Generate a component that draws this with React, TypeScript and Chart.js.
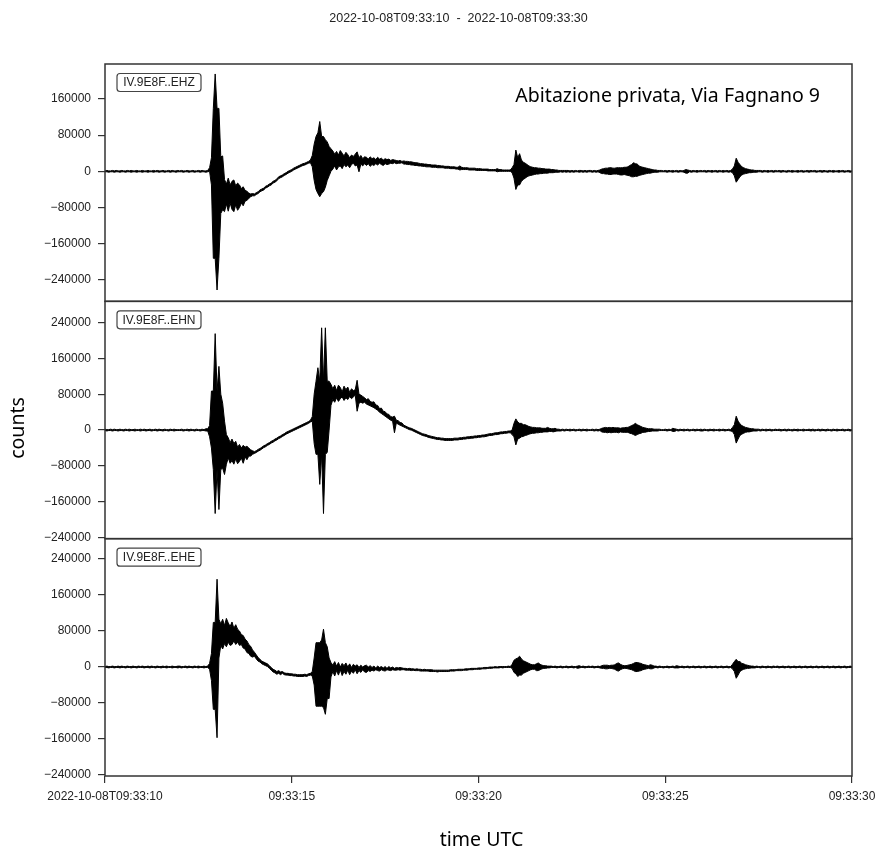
import { useEffect, useRef } from 'react';
import { Chart, registerables } from 'chart.js';

Chart.register(...registerables);

// Width of one plotting bin, seconds after 2022-10-08T09:33:10
const SAMPLE_STEP = 0.05;

// Per-bin maximum / minimum of each trace, thousands of counts; one row = one second
const EHZ_HI = [
  1, 2, 1, 1, 2, 1, 2, 1, 1, 2, 1, 1, 2, 1, 2, 1, 1, 2, 1, 1,
  2, 1, 1, 2, 1, 1, 2, 1, 2, 1, 1, 2, 1, 1, 2, 1, 2, 1, 1, 2,
  1, 2, 1, 1, 2, 1, 1, 2, 1, 1, 2, 1, 2, 1, 1, 2, 8, 30, 139, 215,
  139, 139, 32, 34, -18, -28, -15, -30, -22, -19, -32, -26, -30, -38, -34, -42, -44, -48, -50, -49,
  -50, -47, -45, -41, -39, -37, -33, -31, -28, -26, -22, -20, -17, -12, -10, -8, -5, -3, 0, 2,
  4, 7, 9, 11, 13, 15, 17, 18, 20, 22, 25, 35, 60, 77, 85, 110, 77, 77, 70, 65,
  55, 50, 45, 38, 44, 36, 46, 40, 34, 42, 37, 30, 36, 33, 38, 43, 30, 35, 28, 32,
  31, 27, 32, 28, 30, 26, 31, 27, 29, 25, 28, 26, 27, 24, 26, 25, 24, 23, 24, 22,
  23, 22, 22, 21, 21, 20, 19, 19, 18, 17, 17, 16, 16, 15, 15, 14, 14, 14, 13, 13,
  12, 12, 11, 11, 11, 10, 10, 10, 9, 9, 12, 9, 8, 8, 8, 7, 7, 7, 7, 6,
  6, 6, 5, 5, 5, 5, 4, 4, 4, 4, 6, 4, 4, 3, 3, 3, 3, 3, 8, 15,
  47, 30, 39, 25, 20, 18, 15, 12, 10, 9, 8, 8, 7, 7, 6, 6, 5, 5, 5, 4,
  4, 3, 3, 2, 2, 2, 2, 2, 2, 1, 2, 1, 2, 1, 2, 2, 1, 2, 1, 2,
  2, 1, 2, 1, 2, 3, 5, 6, 7, 7, 8, 8, 7, 7, 8, 8, 8, 8, 9, 9,
  10, 13, 15, 19, 17, 16, 12, 10, 9, 8, 7, 6, 5, 4, 3, 3, 2, 2, 2, 1,
  2, 1, 2, 1, 2, 1, 2, 1, 2, 1, 2, 4, 3, 2, 1, 2, 1, 2, 1, 2,
  1, 2, 1, 2, 1, 2, 1, 2, 1, 2, 1, 2, 1, 2, 1, 2, 5, 12, 29, 20,
  15, 10, 8, 6, 5, 4, 3, 3, 2, 2, 2, 2, 1, 2, 1, 2, 1, 2, 1, 2,
  1, 2, 1, 2, 1, 1, 2, 1, 2, 1, 1, 2, 1, 2, 1, 1, 2, 1, 2, 1,
  2, 1, 1, 2, 1, 2, 1, 1, 2, 1, 2, 1, 1, 2, 1, 2, 1, 1, 2, 1,
  1,
];
const EHZ_LO = [
  -1, -1, -2, -1, -1, -2, -1, -1, -2, -1, -1, -2, -1, -1, -2, -1, -1, -2, -1, -1,
  -2, -1, -1, -2, -1, -1, -2, -1, -1, -2, -1, -1, -2, -1, -1, -2, -1, -1, -2, -1,
  -1, -1, -2, -1, -1, -2, -1, -1, -2, -1, -1, -2, -1, -1, -2, -1, 0, -30, -192, -192,
  -262, -192, -93, -85, -89, -72, -88, -70, -84, -89, -74, -86, -80, -70, -76, -66, -64, -60, -56, -54,
  -54, -51, -49, -45, -43, -41, -37, -35, -32, -30, -26, -24, -21, -16, -14, -12, -9, -7, -4, -2,
  0, 3, 5, 7, 9, 11, 13, 14, 16, 18, 19, 10, -20, -40, -49, -56, -49, -45, -35, -20,
  -10, 0, 5, 12, 3, 10, 12, 6, 15, 10, 14, 8, 15, 18, 12, 14, -1, 16, 12, 17,
  13, 17, 11, 15, 13, 17, 14, 18, 15, 13, 17, 15, 16, 18, 17, 19, 17, 18, 18, 19,
  16, 16, 15, 15, 14, 14, 13, 13, 12, 12, 11, 11, 10, 10, 10, 9, 9, 9, 8, 8,
  8, 8, 7, 7, 7, 6, 6, 6, 5, 5, 3, 4, 4, 4, 4, 3, 3, 3, 3, 2,
  2, 2, 2, 2, 2, 1, 1, 1, 1, 1, -1, 0, 0, 0, 0, 0, 0, 0, -3, -15,
  -40, -30, -30, -22, -18, -15, -12, -10, -9, -8, -7, -6, -6, -5, -5, -4, -4, -4, -3, -3,
  -3, -2, -2, -2, -1, -2, -1, -2, -1, -2, -1, -2, -1, -1, -2, -1, -2, -1, -2, -1,
  -1, -2, -1, -2, -1, -3, -5, -5, -6, -6, -7, -7, -6, -6, -6, -7, -8, -8, -7, -8,
  -9, -10, -12, -12, -11, -11, -9, -8, -7, -6, -5, -4, -4, -3, -2, -2, -2, -1, -1, -1,
  -1, -2, -1, -1, -2, -1, -1, -2, -1, -1, -2, -4, -4, -1, -2, -1, -1, -2, -1, -1,
  -1, -1, -2, -1, -1, -2, -1, -1, -2, -1, -1, -2, -1, -1, -2, -1, -3, -10, -24, -18,
  -12, -8, -6, -5, -4, -3, -3, -2, -2, -2, -1, -1, -2, -1, -1, -2, -1, -1, -2, -1,
  -1, -1, -2, -1, -1, -2, -1, -1, -2, -1, -1, -2, -1, -1, -2, -1, -1, -2, -1, -1,
  -1, -2, -1, -1, -2, -1, -1, -2, -1, -1, -2, -1, -1, -2, -1, -1, -2, -1, -1, -2,
  -1,
];

const EHN_HI = [
  2, 1, 1, 2, 1, 2, 1, 1, 2, 1, 1, 2, 1, 2, 1, 1, 2, 1, 1, 2,
  1, 2, 1, 1, 2, 1, 1, 2, 1, 2, 1, 1, 2, 1, 1, 2, 1, 2, 1, 1,
  1, 2, 1, 1, 2, 1, 2, 1, 1, 2, 1, 1, 2, 1, 3, 3, 10, 87, 87, 215,
  87, 142, 80, 60, 20, -10, -17, -28, -20, -30, -25, -38, -32, -40, -34, -38, -36, -40, -44, -46,
  -48, -46, -43, -41, -38, -35, -33, -30, -28, -25, -23, -20, -18, -15, -13, -10, -8, -5, -3, -1,
  1, 3, 5, 7, 9, 11, 13, 15, 17, 19, 22, 30, 80, 109, 139, 109, 228, 109, 228, 109,
  109, 102, 92, 100, 88, 100, 95, 85, 98, 90, 96, 84, 92, 88, 90, 111, 80, 78, 75, 72,
  68, 70, 64, 62, 63, 56, 55, 48, 49, 42, 41, 36, 35, 30, 29, 31, 22, 21, 17, 16,
  11, 9, 7, 5, 4, 2, 0, -2, -4, -6, -8, -9, -10, -12, -13, -14, -15, -16, -17, -17,
  -18, -18, -19, -19, -19, -19, -19, -18, -18, -18, -17, -17, -16, -16, -15, -15, -14, -14, -13, -13,
  -12, -12, -11, -11, -10, -9, -8, -8, -7, -6, -6, -5, -4, -4, -3, -3, -2, -2, 0, 15,
  25, 18, 15, 15, 12, 12, 10, 8, 7, 6, 6, 5, 5, 5, 4, 4, 4, 6, 4, 3,
  3, 4, 2, 2, 1, 2, 1, 2, 1, 2, 1, 2, 1, 1, 2, 1, 2, 1, 2, 1,
  1, 2, 1, 2, 1, 2, 4, 5, 6, 5, 6, 5, 6, 5, 5, 5, 4, 5, 5, 6,
  6, 8, 10, 12, 15, 12, 10, 8, 6, 5, 4, 3, 3, 3, 2, 2, 2, 2, 1, 1,
  2, 1, 2, 1, 4, 3, 2, 1, 2, 1, 2, 1, 2, 1, 1, 2, 1, 2, 1, 2,
  1, 2, 1, 1, 2, 1, 2, 1, 1, 2, 1, 2, 1, 1, 2, 1, 6, 12, 31, 20,
  14, 10, 8, 6, 5, 4, 3, 3, 2, 2, 2, 1, 2, 1, 2, 1, 2, 1, 1, 2,
  1, 2, 1, 1, 2, 1, 2, 1, 1, 2, 1, 2, 1, 1, 2, 1, 1, 2, 1, 2,
  1, 1, 2, 1, 2, 1, 1, 2, 1, 1, 2, 1, 2, 1, 1, 2, 1, 1, 2, 1,
  1,
];
const EHN_LO = [
  -1, -2, -1, -1, -2, -1, -1, -2, -1, -1, -2, -1, -1, -2, -1, -1, -2, -1, -1, -2,
  -1, -1, -2, -1, -1, -2, -1, -1, -2, -1, -1, -2, -1, -1, -2, -1, -1, -2, -1, -1,
  -1, -1, -2, -1, -1, -2, -1, -1, -2, -1, -1, -2, -1, -1, -2, -2, -15, -40, -88, -186,
  -88, -177, -88, -85, -99, -76, -62, -74, -68, -76, -64, -75, -70, -62, -74, -60, -66, -58, -58, -54,
  -52, -50, -47, -45, -42, -39, -37, -34, -32, -29, -27, -24, -22, -19, -17, -14, -12, -9, -7, -5,
  -3, -1, 1, 3, 5, 7, 9, 11, 13, 15, 18, 20, -30, -54, -54, -121, -54, -186, -54, -50,
  0, 55, 68, 62, 72, 64, 70, 74, 66, 72, 68, 75, 70, 74, 78, 42, 60, 62, 60, 62,
  58, 56, 54, 52, 50, 47, 44, 40, 37, 34, 31, 28, 25, 22, 20, -6, 16, 13, 11, 9,
  7, 5, 3, 1, 0, -2, -4, -6, -8, -10, -12, -13, -14, -16, -17, -18, -19, -20, -21, -21,
  -22, -22, -23, -23, -23, -23, -23, -22, -22, -22, -21, -21, -20, -20, -19, -19, -18, -18, -17, -17,
  -16, -16, -15, -15, -14, -13, -12, -12, -11, -10, -10, -9, -8, -8, -7, -7, -6, -6, -10, -15,
  -33, -20, -18, -15, -14, -12, -11, -9, -8, -7, -7, -6, -6, -5, -5, -4, -4, -4, -3, -3,
  -4, -3, -2, -2, -2, -1, -2, -1, -1, -2, -1, -1, -2, -1, -1, -2, -1, -1, -2, -1,
  -1, -1, -2, -1, -2, -1, -4, -5, -5, -6, -5, -6, -5, -5, -5, -6, -4, -5, -5, -5,
  -5, -7, -8, -10, -12, -10, -8, -7, -5, -5, -4, -3, -3, -2, -2, -2, -2, -1, -1, -1,
  -1, -2, -1, -1, -3, -3, -1, -2, -1, -1, -2, -1, -1, -2, -1, -1, -2, -1, -1, -2,
  -2, -1, -1, -2, -1, -1, -2, -1, -1, -2, -1, -1, -2, -1, -1, -2, -3, -10, -29, -20,
  -12, -9, -7, -5, -4, -4, -3, -2, -2, -2, -1, -2, -1, -1, -2, -1, -1, -2, -1, -1,
  -1, -1, -2, -1, -1, -2, -1, -1, -2, -1, -1, -2, -1, -1, -2, -1, -1, -1, -2, -1,
  -2, -1, -1, -2, -1, -1, -2, -1, -1, -2, -1, -1, -2, -1, -1, -1, -2, -1, -1, -2,
  -1,
];

const EHE_HI = [
  1, 2, 1, 1, 2, 1, 1, 2, 1, 2, 1, 1, 2, 1, 1, 2, 1, 1, 2, 1,
  2, 1, 1, 2, 1, 2, 1, 1, 2, 1, 1, 2, 1, 2, 1, 1, 2, 1, 1, 2,
  2, 1, 1, 2, 1, 2, 1, 1, 2, 1, 2, 1, 1, 2, 1, 2, 8, 30, 99, 99,
  195, 106, 96, 106, 92, 108, 98, 90, 100, 86, 94, 84, 80, 72, 70, 62, 58, 50, 46, 38,
  33, 27, 21, 17, 13, 11, 9, 7, 3, -1, -5, -7, -10, -8, -11, -10, -13, -14, -14, -15,
  -15, -16, -16, -17, -17, -17, -17, -16, -17, -15, -14, -10, 20, 54, 54, 54, 60, 84, 54, 45,
  20, 10, 4, 12, 2, 10, 0, 8, 3, 9, 0, 7, -1, 6, 2, 5, -1, 4, 0, 3,
  4, 0, 3, -1, 2, -2, 2, -1, 1, -2, 1, -3, 1, -2, 0, -3, -1, -2, -1, -2,
  -3, -3, -4, -3, -4, -4, -5, -4, -5, -5, -6, -5, -6, -6, -6, -6, -7, -7, -7, -7,
  -7, -7, -7, -7, -7, -6, -6, -6, -6, -5, -5, -5, -5, -4, -4, -4, -3, -3, -3, -3,
  -2, -2, -2, -1, -1, -1, 0, 0, 0, 1, 0, 1, 1, 1, 1, 1, 2, 1, 6, 15,
  18, 20, 24, 18, 14, 12, 10, 8, 6, 5, 5, 7, 9, 6, 4, 3, 3, 2, 2, 2,
  1, 2, 1, 1, 2, 1, 1, 2, 1, 1, 2, 1, 1, 2, 3, 1, 2, 1, 1, 2,
  1, 2, 1, 1, 2, 1, 3, 4, 4, 4, 3, 4, 4, 5, 8, 9, 6, 4, 3, 3,
  4, 5, 6, 8, 10, 10, 9, 8, 6, 5, 4, 3, 5, 4, 2, 2, 1, 2, 1, 1,
  1, 2, 1, 1, 2, 1, 3, 2, 1, 2, 1, 1, 2, 1, 1, 2, 1, 1, 2, 1,
  1, 2, 1, 1, 2, 1, 1, 2, 1, 1, 2, 1, 1, 2, 1, 1, 6, 12, 17, 12,
  12, 8, 7, 5, 4, 3, 2, 2, 1, 2, 1, 1, 2, 1, 1, 2, 1, 1, 2, 1,
  2, 1, 1, 2, 1, 1, 2, 1, 1, 2, 1, 1, 2, 1, 1, 2, 1, 1, 2, 1,
  1, 2, 1, 1, 2, 1, 1, 2, 1, 1, 2, 1, 1, 2, 1, 1, 2, 1, 1, 2,
  1,
];
const EHE_LO = [
  -1, -1, -2, -1, -1, -2, -1, -1, -2, -1, -1, -2, -1, -1, -2, -1, -1, -2, -1, -1,
  -1, -2, -1, -1, -2, -1, -1, -2, -1, -1, -2, -1, -1, -2, -1, -1, -2, -1, -1, -2,
  -1, -2, -1, -1, -2, -1, -1, -2, -1, -1, -2, -1, -1, -2, -1, -1, -5, -30, -94, -94,
  -157, 20, 48, 40, 52, 45, 55, 48, 50, 58, 50, 55, 48, 50, 42, 40, 32, 30, 24, 22,
  24, 18, 13, 11, 7, 5, 3, 1, -3, -7, -11, -13, -16, -14, -17, -14, -17, -18, -18, -19,
  -19, -20, -20, -21, -21, -21, -21, -20, -21, -19, -18, -20, -40, -87, -87, -87, -87, -90, -105, -70,
  -70, -22, -10, -20, -8, -18, -6, -19, -10, -16, -7, -17, -9, -14, -6, -15, -8, -12, -6, -11,
  -12, -8, -10, -7, -9, -6, -8, -9, -6, -8, -9, -6, -7, -8, -6, -7, -7, -6, -7, -6,
  -6, -7, -7, -7, -8, -7, -8, -8, -8, -9, -9, -9, -9, -9, -10, -10, -10, -10, -11, -10,
  -10, -10, -10, -10, -10, -9, -9, -9, -8, -8, -8, -8, -7, -7, -7, -6, -6, -6, -5, -5,
  -5, -5, -4, -4, -4, -3, -3, -3, -2, -2, -2, -2, -1, -2, -1, -1, -1, -1, -3, -12,
  -15, -21, -18, -18, -14, -12, -10, -8, -6, -5, -5, -8, -8, -6, -4, -3, -3, -2, -2, -1,
  -1, -1, -2, -1, -1, -2, -1, -1, -2, -1, -1, -2, -1, -3, -2, -1, -1, -2, -1, -1,
  -1, -1, -2, -1, -1, -2, -3, -3, -4, -4, -3, -3, -4, -5, -8, -9, -6, -4, -3, -3,
  -4, -5, -6, -8, -10, -10, -9, -8, -6, -5, -4, -3, -4, -4, -2, -1, -2, -1, -1, -2,
  -1, -1, -2, -1, -1, -2, -2, -2, -1, -1, -2, -1, -1, -2, -1, -1, -2, -1, -1, -2,
  -1, -1, -2, -1, -1, -2, -1, -1, -2, -1, -1, -2, -1, -1, -2, -1, -4, -10, -25, -18,
  -10, -7, -5, -4, -3, -3, -2, -2, -2, -1, -1, -2, -1, -1, -2, -1, -1, -2, -1, -1,
  -1, -2, -1, -1, -2, -1, -1, -2, -1, -1, -2, -1, -1, -2, -1, -1, -2, -1, -1, -2,
  -1, -1, -2, -1, -1, -2, -1, -1, -2, -1, -1, -2, -1, -1, -2, -1, -1, -2, -1, -1,
  -1,
];

const CHANNELS = ['IV.9E8F..EHZ', 'IV.9E8F..EHN', 'IV.9E8F..EHE'];
const Y_IDS = ['yZ', 'yN', 'yE'];
const Y_MIN = [-287000, -242000, -242000];
const Y_MAX = [237000, 287000, 285000];

const X_TICKS = [0, 5, 10, 15, 20];
const X_TICK_LABELS = ['2022-10-08T09:33:10', '09:33:15', '09:33:20', '09:33:25', '09:33:30'];
const Y_TICKS = [240000, 160000, 80000, 0, -80000, -160000, -240000];
const Y_TICK_LABELS = ['240000', '160000', '80000', '0', '\u221280000', '\u2212160000', '\u2212240000'];

const TITLE = '2022-10-08T09:33:10  -  2022-10-08T09:33:30';
const NOTE = 'Abitazione privata, Via Fagnano 9';
const Y_LABEL = 'counts';
const X_LABEL = 'time UTC';

const SANS = '"Liberation Sans", Arial, Helvetica, sans-serif';
const HUMAN = '"Noto Sans", "Open Sans", sans-serif';

const toPoints = (vals: number[]) => vals.map((v, i) => ({ x: i * SAMPLE_STEP, y: v * 1000 }));

const decorPlugin = {
  id: 'decor',
  afterDraw(chart: any) {
    const ctx = chart.ctx;
    const { left, right } = chart.chartArea;
    ctx.save();
    Y_IDS.forEach((id, k) => {
      const s = chart.scales[id];
      ctx.strokeStyle = '#333';
      ctx.lineWidth = 1.5;
      ctx.strokeRect(left, s.top, right - left, s.bottom - s.top);
      const bx = left + 12;
      const by = s.top + 9.5;
      const bw = 84;
      const bh = 18;
      ctx.beginPath();
      ctx.roundRect(bx, by, bw, bh, 3);
      ctx.fillStyle = '#fff';
      ctx.fill();
      ctx.lineWidth = 1.2;
      ctx.strokeStyle = '#444';
      ctx.stroke();
      ctx.fillStyle = '#222';
      ctx.font = '12px ' + SANS;
      ctx.textAlign = 'center';
      ctx.textBaseline = 'middle';
      ctx.fillText(CHANNELS[k], bx + bw / 2, by + bh / 2 + 0.5);
    });
    const cx = (left + right) / 2;
    ctx.fillStyle = '#222';
    ctx.font = '12.5px ' + SANS;
    ctx.textAlign = 'center';
    ctx.textBaseline = 'middle';
    ctx.fillText(TITLE, cx - 20, 19);

    const top = chart.scales.yZ.top;
    ctx.fillStyle = '#000';
    ctx.font = '19.5px ' + HUMAN;
    ctx.textAlign = 'right';
    ctx.fillText(NOTE, right - 32, top + 32);

    ctx.textAlign = 'center';
    ctx.fillText(X_LABEL, cx + 3, 840);

    const sN = chart.scales.yN;
    ctx.translate(18, (sN.top + sN.bottom) / 2 + 8);
    ctx.rotate(-Math.PI / 2);
    ctx.fillText(Y_LABEL, 0, 0);
    ctx.restore();
  },
};

export default function App() {
  const ref = useRef<HTMLCanvasElement | null>(null);

  useEffect(() => {
    if (!ref.current) return;
    const traces = [
      [EHZ_HI, EHZ_LO],
      [EHN_HI, EHN_LO],
      [EHE_HI, EHE_LO],
    ];
    const tickFont = { family: SANS, size: 12 };
    const yScales: any = {};
    Y_IDS.forEach((id, k) => {
      yScales[id] = {
        type: 'linear',
        position: 'left',
        stack: 'traces',
        stackWeight: 1,
        weight: 3 - k,
        min: Y_MIN[k],
        max: Y_MAX[k],
        afterBuildTicks: (s: any) => {
          s.ticks = Y_TICKS.filter((v) => v >= s.min && v <= s.max).map((v) => ({ value: v }));
        },
        afterFit: (s: any) => {
          s.width = 105;
          s.paddingTop = 0;
          s.paddingBottom = 0;
        },
        ticks: {
          callback: (v: number) => Y_TICK_LABELS[Y_TICKS.indexOf(v)],
          font: tickFont,
          color: '#222',
          padding: 7,
          autoSkip: false,
        },
        grid: { drawOnChartArea: false, drawTicks: true, tickLength: 7, color: '#333', lineWidth: 1.2 },
        border: { display: false },
      };
    });

    const datasets: any[] = [];
    traces.forEach(([hi, lo], k) => {
      datasets.push({
        label: CHANNELS[k] + ' max',
        data: toPoints(hi),
        xAxisID: 'x',
        yAxisID: Y_IDS[k],
        borderColor: '#000',
        backgroundColor: '#000',
        borderWidth: 1,
        pointRadius: 0,
        fill: '+1',
        tension: 0,
      });
      datasets.push({
        label: CHANNELS[k] + ' min',
        data: toPoints(lo),
        xAxisID: 'x',
        yAxisID: Y_IDS[k],
        borderColor: '#000',
        backgroundColor: '#000',
        borderWidth: 1,
        pointRadius: 0,
        fill: false,
        tension: 0,
      });
    });

    const chart = new Chart(ref.current, {
      type: 'line',
      data: { datasets },
      options: {
        animation: false,
        responsive: false,
        devicePixelRatio: 1,
        layout: { padding: { left: 0, right: 23, top: 64, bottom: 0 } },
        plugins: {
          legend: { display: false },
          tooltip: { enabled: false },
          title: { display: false },
          filler: { propagate: false },
        },
        scales: {
          x: {
            type: 'linear',
            position: 'bottom',
            min: 0,
            max: 20,
            afterBuildTicks: (s: any) => {
              s.ticks = X_TICKS.map((v) => ({ value: v }));
            },
            afterFit: (s: any) => {
              s.height = 73;
              s.paddingLeft = 0;
              s.paddingRight = 0;
            },
            ticks: {
              callback: (_v: number, i: number) => X_TICK_LABELS[i],
              font: tickFont,
              color: '#222',
              padding: 6,
              maxRotation: 0,
              autoSkip: false,
            },
            grid: { drawOnChartArea: false, drawTicks: true, tickLength: 7, color: '#333', lineWidth: 1.2 },
            border: { display: false },
          },
          ...yScales,
        },
      },
      plugins: [decorPlugin],
    } as any);
    return () => chart.destroy();
  }, []);

  return (
    <div style={{ position: 'absolute', left: 0, top: 0, width: 875, height: 849, background: '#fff' }}>
      <canvas ref={ref} width={875} height={849} style={{ display: 'block' }} />
    </div>
  );
}
